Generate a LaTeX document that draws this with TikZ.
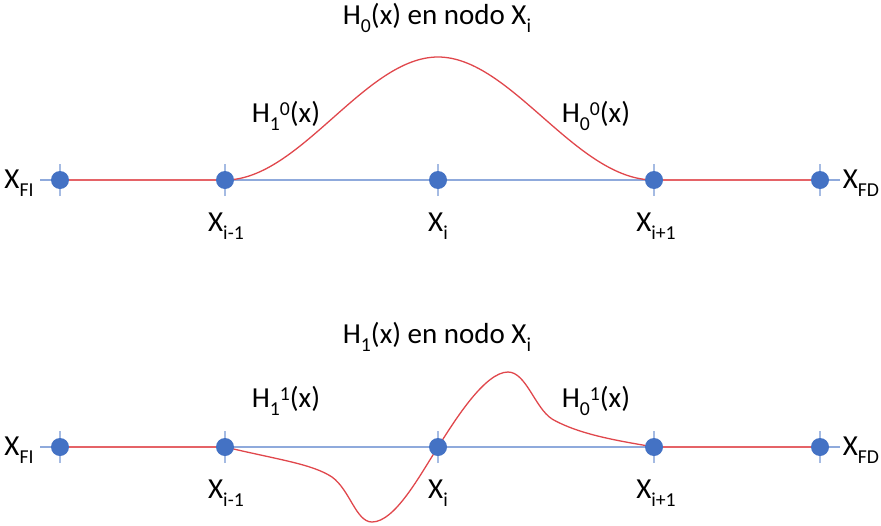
\documentclass[tikz,border=0pt]{standalone}
\usepackage{fontspec}
\setmainfont{Carlito}
\newcommand{\mysb}[1]{\raisebox{-0.28em}{\scalebox{0.68}{#1}}}
\newcommand{\mysp}[1]{\raisebox{0.24em}{\scalebox{0.68}{#1}}}
\definecolor{dotblue}{HTML}{4472C4}
\definecolor{axblue}{HTML}{8FAADC}
\definecolor{curvered}{HTML}{E0474C}
\tikzset{
  dot/.style={circle,fill=dotblue,inner sep=0pt,minimum size=18pt},
  axis/.style={draw=axblue,line width=1.4pt},
  tickmark/.style={draw=axblue!80,line width=1.2pt},
  redline/.style={draw=curvered,line width=1.3pt},
  redflat/.style={draw=curvered!85,line width=2pt},
  lbl/.style={font=\fontsize{29}{33}\selectfont,inner sep=0pt},
}
\begin{document}
\begin{tikzpicture}[x=1pt,y=-1pt]
\useasboundingbox (0,0) rectangle (881,525);
% ---------- top ----------
\foreach \n/\x in {a1/60,a2/225,a3/438,a4/654,a5/820}{
  \coordinate (\n) at (\x,180);
}
\coordinate (al) at (40,180);
\coordinate (ar) at (840,180);
\draw[axis] (al) -- (ar);
\foreach \n in {a1,a2,a3,a4,a5}{
  \draw[tickmark] ([yshift=-16pt]\n) -- ([yshift=16pt]\n);
}
\draw[redflat] (a1) -- (a2);
\draw[redflat] (a4) -- (a5);
\draw[redline] (a2) .. controls (300,180) and (365,57) .. (438,57)
  .. controls (511,57) and (576,180) .. (a4);
\foreach \n in {a1,a2,a3,a4,a5}{
  \node[dot] (d\n) at (\n) {};
}
\node[lbl] (t1) at (437,18) {H\mysb{0}(x) en nodo X\mysb{i}};
\node[lbl] (h10) at (286,116) {H\mysb{1}\mysp{0}(x)};
\node[lbl] (h00) at (596,116) {H\mysb{0}\mysp{0}(x)};
\node[lbl] (xa1) at (19,183) {X\mysb{FI}};
\node[lbl] (xa5) at (861,183) {X\mysb{FD}};
\node[lbl] (xa2) at (226,226) {X\mysb{i-1}};
\node[lbl] (xa3) at (438,226) {X\mysb{i}};
\node[lbl] (xa4) at (656,226) {X\mysb{i+1}};
% ---------- bottom ----------
\foreach \n/\x in {b1/60,b2/225,b3/438,b4/654,b5/820}{
  \coordinate (\n) at (\x,447);
}
\coordinate (bl) at (40,447);
\coordinate (br) at (840,447);
\draw[axis] (bl) -- (br);
\foreach \n in {b1,b2,b3,b4,b5}{
  \draw[tickmark] ([yshift=-16pt]\n) -- ([yshift=16pt]\n);
}
\draw[redflat] (b1) -- (b2);
\draw[redflat] (b4) -- (b5);
\draw[redline] (b2) .. controls (280,460) and (312,464) .. (332,477)
  .. controls (350,490) and (356,522) .. (372,522)
  .. controls (395,522) and (420,475) .. (b3)
  .. controls (455,420) and (485,372) .. (508,372)
  .. controls (526,372) and (535,408) .. (552,419)
  .. controls (580,435) and (620,441) .. (b4);
\foreach \n in {b1,b2,b3,b4,b5}{
  \node[dot] (d\n) at (\n) {};
}
\node[lbl] (t2) at (437,337) {H\mysb{1}(x) en nodo X\mysb{i}};
\node[lbl] (h11) at (286,401) {H\mysb{1}\mysp{1}(x)};
\node[lbl] (h01) at (596,401) {H\mysb{0}\mysp{1}(x)};
\node[lbl] (xb1) at (19,450) {X\mysb{FI}};
\node[lbl] (xb5) at (861,450) {X\mysb{FD}};
\node[lbl] (xb2) at (226,493) {X\mysb{i-1}};
\node[lbl] (xb3) at (438,493) {X\mysb{i}};
\node[lbl] (xb4) at (656,493) {X\mysb{i+1}};
\end{tikzpicture}
\end{document}
